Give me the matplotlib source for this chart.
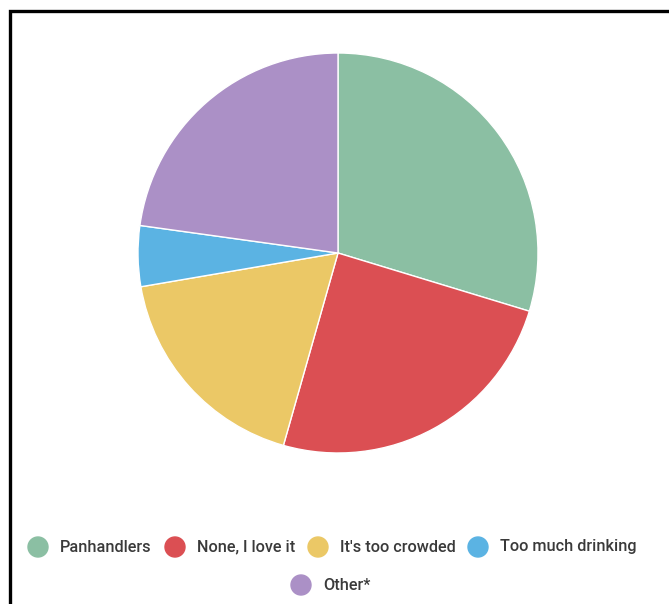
import matplotlib
matplotlib.use("Agg")
import matplotlib.pyplot as plt
from matplotlib.patches import Rectangle, Ellipse

labels = ["Panhandlers", "None, I love it", "It's too crowded", "Too much drinking", "Other*"]
shares = [29.7, 24.7, 17.9, 4.9, 22.8]
colors = ["#8bbfa3", "#db4f53", "#ebc866", "#5bb3e3", "#ab90c6"]

W, H = 669, 604
fig = plt.figure(figsize=(W / 100, H / 100), dpi=100)
plt.rcParams["font.family"] = ["Roboto", "DejaVu Sans"]

# pie centred at (338, 253) px with radius 200 px
cx, cy, r = 338, 253, 200
ax = fig.add_axes([(cx - r) / W, (H - cy - r) / H, 2 * r / W, 2 * r / H])
ax.pie(shares, colors=colors, startangle=90, counterclock=False,
       wedgeprops=dict(edgecolor="white", linewidth=1))
ax.set_xlim(-1, 1)
ax.set_ylim(-1, 1)
ax.set_aspect("equal")
ax.axis("off")

# frame running off the right and bottom edges
fig.patches.append(Rectangle((9.5 / W, -0.1), 1.2, (H - 11) / H + 0.1,
                             transform=fig.transFigure, fill=False,
                             edgecolor="black", linewidth=2.4))

# legend: two centred rows of circle markers
legend_pos = [(38, 547), (175, 547), (318, 547), (478, 547), (301, 585)]
for (px, py), lab, col in zip(legend_pos, labels, colors):
    fig.patches.append(Ellipse((px / W, (H - py) / H), 20 / W, 20 / H,
                               transform=fig.transFigure, color=col))
    fig.text((px + 22) / W, (H - py) / H, lab, fontsize=11.7, color="#3a3a3a",
             fontweight="medium", ha="left", va="center")

fig.savefig("out.png", dpi=100)
